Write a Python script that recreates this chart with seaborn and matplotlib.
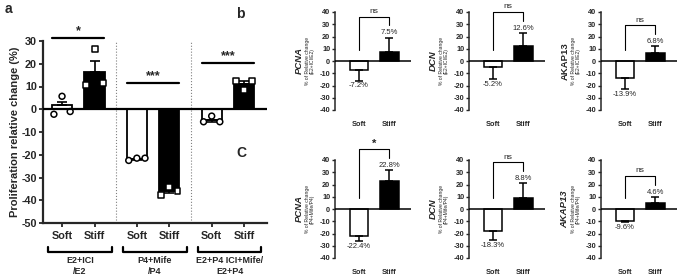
import numpy as np
import pandas as pd
import matplotlib
matplotlib.use('Agg')
import matplotlib.pyplot as plt
import matplotlib.transforms as mtransforms
import seaborn as sns

# ---- panel a data ----
groups = ['E2+ICI\n/E2', 'P4+Mife\n/P4', 'E2+P4 ICI+Mife/\nE2+P4']
stiffness = ['Soft', 'Stiff']
a_means = [1.8, 16.3, -21.8, -35.8, -4.7, 11.2]
a_sem = [1.3, 5.0, 0.4, 1.0, 0.8, 1.3]
a_points = [[-2.2, 5.7, -1.0], [10.8, 26.5, 11.5],
            [-22.5, -21.5, -21.5], [-37.5, -34.0, -35.8],
            [-5.5, -3.0, -5.5], [12.5, 8.5, 12.5]]
a_sig = ['*', '***', '***']
a_sig_y = [31.3, 11.5, 20.2]

# ---- panels b / c data ----
genes = ['PCNA', 'DCN', 'AKAP13']
b_means = [[-7.2, 7.5], [-5.2, 12.6], [-13.9, 6.8]]
b_err = [[8.8, 11.5], [9.3, 10.4], [9.1, 5.2]]
b_sig = ['ns', 'ns', 'ns']
c_means = [[-22.4, 22.8], [-18.3, 8.8], [-9.6, 4.6]]
c_err = [[4.1, 9.2], [7.2, 12.2], [1.4, 5.4]]
c_sig = ['*', 'ns', 'ns']

sns.set_style('ticks')
plt.rcParams['font.family'] = ['Liberation Sans', 'DejaVu Sans']
plt.rcParams['axes.unicode_minus'] = False

fig = plt.figure(figsize=(6.77, 2.8), dpi=100)

# ---------------- panel a ----------------
pos = [0, 1, 2.3, 3.3, 4.6, 5.6]
df_a = pd.DataFrame({'x': pos, 'y': a_means, 'stiff': stiffness * 3})
ax = fig.add_axes([43/677, 1-223/280, 224/677, 182/280])
sns.barplot(data=df_a, x='x', y='y', hue='stiff', native_scale=True,
            palette={'Soft': 'white', 'Stiff': 'black'}, edgecolor='black',
            linewidth=1.3, width=0.62, errorbar=None, legend=False, ax=ax)
lo = [e if m < 0 else 0 for m, e in zip(a_means, a_sem)]
hi = [e if m >= 0 else 0 for m, e in zip(a_means, a_sem)]
ax.errorbar(pos, a_means, yerr=[lo, hi], fmt='none', ecolor='black',
            elinewidth=1.2, capsize=3.5, capthick=1.2, zorder=3)

offs = [-0.25, 0, 0.25]
rows = []
for i, pts in enumerate(a_points):
    for j, v in enumerate(pts):
        rows.append({'x': pos[i] + offs[j], 'y': v, 'stiff': stiffness[i % 2]})
df_pts = pd.DataFrame(rows)
sns.scatterplot(data=df_pts, x='x', y='y', style='stiff',
                markers={'Soft': 'o', 'Stiff': 's'}, color='white',
                edgecolor='black', linewidth=1.1, s=18, legend=False,
                zorder=4, ax=ax)

ax.axhline(0, color='black', lw=1.6, zorder=5)
ax.set_xlim(-0.585, 6.3)
ax.set_ylim(-50, 30)
ax.set_yticks(np.arange(-50, 31, 10))
ax.set_xticks(pos)
ax.set_xticklabels(stiffness * 3, fontsize=7.8, fontweight='bold')
for t in ax.get_yticklabels():
    t.set_fontweight('bold')
ax.tick_params(axis='y', labelsize=7.8, width=1.3, length=3, pad=1.5)
ax.tick_params(axis='x', width=1.3, length=3, pad=3)
ax.set_xlabel('')
ax.set_ylabel('Proliferation relative change (%)', fontsize=8,
              fontweight='bold', labelpad=1)
for s in ['left', 'bottom']:
    ax.spines[s].set_linewidth(1.6)
sns.despine(ax=ax)

for xs in [1.65, 3.95]:
    ax.plot([xs, xs], [-50, 30], color='gray', ls=':', lw=0.8)

trans = mtransforms.blended_transform_factory(ax.transData, ax.transAxes)
for g in range(3):
    xs, xt = pos[2*g], pos[2*g+1]
    ax.plot([xs - 0.3, xt + 0.3], [a_sig_y[g]] * 2, color='black', lw=1.6,
            clip_on=False)
    ax.text((xs + xt) / 2, a_sig_y[g] + 0.5, a_sig[g], ha='center',
            va='bottom', fontsize=9, fontweight='bold')
    ax.plot([xs - 0.43, xs - 0.43, xt + 0.53, xt + 0.53],
            [-0.13, -0.16, -0.16, -0.13], color='black', lw=1.6,
            transform=trans, clip_on=False)
    ax.text((xs + xt) / 2 + 0.05, -0.235, groups[g], ha='center',
            va='center', fontsize=6.5, fontweight='bold', transform=trans,
            linespacing=1.3)

fig.text(5/677, 1-9/280, 'a', fontsize=10, fontweight='bold', va='center')

# ---------------- panels b / c ----------------
lefts = [335, 469, 601]
rows_y = [(12, 110), (160, 258)]
subs = ['(E2+ICI/E2)', '(P4+Mife/P4)']
all_means = [b_means, c_means]
all_err = [b_err, c_err]
all_sig = [b_sig, c_sig]

for r in range(2):
    top, bot = rows_y[r]
    for k in range(3):
        axs = fig.add_axes([lefts[k]/677, 1-bot/280, 76/677, (bot-top)/280])
        means = all_means[r][k]
        errs = all_err[r][k]
        d = pd.DataFrame({'cond': stiffness, 'val': means})
        sns.barplot(data=d, x='cond', y='val', hue='cond',
                    palette={'Soft': 'white', 'Stiff': 'black'},
                    edgecolor='black', linewidth=1.1, width=0.63,
                    errorbar=None, legend=False, ax=axs)
        lo = [e if m < 0 else 0 for m, e in zip(means, errs)]
        hi = [e if m >= 0 else 0 for m, e in zip(means, errs)]
        axs.errorbar([0, 1], means, yerr=[lo, hi], fmt='none', ecolor='black',
                     elinewidth=1.1, capsize=3, capthick=1.1, zorder=3)
        axs.axhline(0, color='black', lw=1.1, zorder=5)
        for i, (m, e) in enumerate(zip(means, errs)):
            if m < 0:
                axs.text(i, m - e - 1.5, f'{m:.1f}%', ha='center', va='top',
                         fontsize=5.5)
            else:
                axs.text(i, m + e + 1, f'{m:.1f}%', ha='center',
                         va='bottom', fontsize=5.5)
        # significance bracket
        rb = means[1] + errs[1] + 10
        tp = rb + 7
        axs.plot([0, 0, 1, 1], [9, tp, tp, rb], color='black', lw=0.8,
                 clip_on=False)
        sig = all_sig[r][k]
        if sig == '*':
            axs.text(0.5, tp + 0.5, sig, ha='center', va='bottom',
                     fontsize=8, fontweight='bold')
        else:
            axs.text(0.5, tp + 1.5, sig, ha='center', va='bottom',
                     fontsize=6)
        axs.set_xlim(-0.8, 1.73)
        axs.set_ylim(-40, 40)
        axs.set_yticks(np.arange(-40, 41, 10))
        axs.set_xlabel('')
        axs.set_ylabel('')
        axs.tick_params(axis='y', labelsize=5.3, width=1, length=2.5, pad=1)
        axs.tick_params(axis='x', labelsize=5.3, length=0, pad=8)
        for t in axs.get_yticklabels() + axs.get_xticklabels():
            t.set_fontweight('bold')
        sns.despine(ax=axs, bottom=True)
        axs.spines['left'].set_linewidth(1.1)
        italic = not (r == 0 and k == 2)
        axs.text(-36/76, 0.5, genes[k], rotation=90, ha='center',
                 va='center', fontsize=6.8, fontweight='bold',
                 style='italic' if italic else 'normal',
                 transform=axs.transAxes)
        axs.text(-28/76, 0.5, '% of Relative change', rotation=90,
                 ha='center', va='center', fontsize=3.6,
                 transform=axs.transAxes)
        axs.text(-23/76, 0.5, subs[r], rotation=90, ha='center',
                 va='center', fontsize=3.6, transform=axs.transAxes)

fig.text(236/677, 1-14/280, 'b', fontsize=10, fontweight='bold', va='center')
fig.text(236/677, 1-153/280, 'C', fontsize=10, fontweight='bold', va='center')

fig.savefig('out.png', dpi=100)
